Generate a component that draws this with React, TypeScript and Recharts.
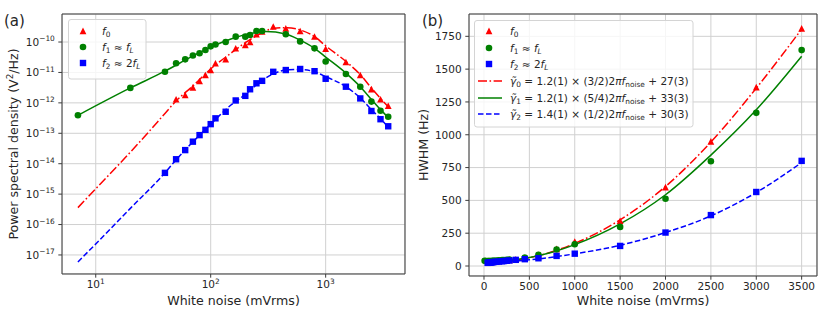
import React from "react";
import { ComposedChart, Line, Scatter, XAxis, YAxis, CartesianGrid } from "recharts";

const FONT = '"DejaVu Sans", Verdana, sans-serif';
const INK = "#262626";
const SPINE = "#3c3c3c";
const GRID = "#d0d0d0";
const RED = "#ff0000";
const GREEN = "#008000";
const BLUE = "#0000ff";
const THIN = 0.01; // axes take (almost) no room, the chart margins hold the labels

// ---- panel (a): power spectral density (V^2/Hz) vs white noise (mVrms)
const f0NoiseA = [50, 60, 70, 80, 90, 100, 110, 135, 165, 200, 220, 250, 280, 350, 450, 600, 800, 1000, 1500, 2000, 2500, 3000, 3500];
const f0PsdA = [1.3e-12, 1.8e-12, 3.2e-12, 5.2e-12, 8.2e-12, 1.2e-11, 2.0e-11, 2.7e-11, 6.2e-11, 8.0e-11, 1.0e-10, 1.8e-10, 2.2e-10, 3.2e-10, 2.8e-10, 2.3e-10, 1.5e-10, 6.0e-11, 2.2e-11, 8.2e-12, 2.8e-12, 1.3e-12, 8.0e-13];

const f1NoiseA = [7, 20, 40, 50, 60, 70, 80, 90, 100, 110, 135, 165, 200, 220, 250, 280, 450, 600, 800, 1000, 1500, 2000, 2500, 3000, 3500];
const f1PsdA = [3.9e-13, 3.1e-12, 1.05e-11, 2.0e-11, 2.7e-11, 3.6e-11, 4.3e-11, 5.5e-11, 7.2e-11, 8.3e-11, 1.0e-10, 1.5e-10, 1.5e-10, 1.7e-10, 2.3e-10, 2.3e-10, 1.8e-10, 1.05e-10, 6.2e-11, 2.3e-11, 8.9e-12, 3.4e-12, 1.1e-12, 5.5e-13, 3.5e-13];

const f2NoiseA = [40, 50, 60, 70, 80, 90, 100, 110, 135, 165, 200, 220, 250, 280, 350, 450, 600, 800, 1000, 1500, 2000, 2500, 3000, 3500];
const f2PsdA = [5.0e-15, 1.4e-14, 2.8e-14, 5.3e-14, 8.7e-14, 1.3e-13, 2.0e-13, 3.1e-13, 5.1e-13, 1.2e-12, 1.7e-12, 2.8e-12, 4.4e-12, 5.3e-12, 1.05e-11, 1.2e-11, 1.3e-11, 1.1e-11, 6.2e-12, 3.4e-12, 1.4e-12, 5.4e-13, 2.9e-13, 1.7e-13];

// model curves
const fit0NoiseA = [7, 10, 20, 30, 40, 50, 70, 100, 150, 200, 250, 300, 350, 450, 600, 800, 1000, 1500, 2000, 2500, 3000, 3500];
const fit0PsdA = [3.6e-16, 1.5e-15, 2.4e-14, 1.3e-13, 4.5e-13, 1.15e-12, 3.6e-12, 1.3e-11, 4.3e-11, 9.5e-11, 1.6e-10, 2.3e-10, 2.8e-10, 2.95e-10, 2.5e-10, 1.5e-10, 7.5e-11, 2.3e-11, 8.5e-12, 3.1e-12, 1.4e-12, 7.5e-13];
const fit1NoiseA = [7, 20, 40, 70, 100, 150, 200, 300, 450, 600, 800, 1000, 1500, 2000, 2500, 3000, 3500];
const fit1PsdA = [3.9e-13, 3.1e-12, 1.1e-11, 3.5e-11, 6.8e-11, 1.25e-10, 1.75e-10, 2.2e-10, 1.85e-10, 1.15e-10, 6.2e-11, 3.2e-11, 9.5e-12, 3.4e-12, 1.3e-12, 6.0e-13, 3.3e-13];
const fit2NoiseA = [7, 10, 20, 40, 50, 70, 100, 150, 200, 250, 350, 450, 600, 800, 1000, 1500, 2000, 2500, 3000, 3500];
const fit2PsdA = [5.9e-18, 2.3e-17, 3.4e-16, 5.0e-15, 1.35e-14, 5.2e-14, 2.0e-13, 8.5e-13, 1.9e-12, 3.9e-12, 9.0e-12, 1.2e-11, 1.25e-11, 1.05e-11, 7.3e-12, 3.4e-12, 1.45e-12, 6.0e-13, 3.0e-13, 1.6e-13];

const xTicksA = [10, 100, 1000];
const yTicksA = [1e-17, 1e-16, 1e-15, 1e-14, 1e-13, 1e-12, 1e-11, 1e-10];
const xDomainA: [number, number] = [5.09, 4898];
const yDomainA: [number, number] = [2.37e-18, 8.34e-10];

// ---- panel (b): HWHM (Hz) vs white noise (mVrms)
const f0NoiseB = f0NoiseA;
const f0HwhmB = [30, 30, 31, 32, 33, 34, 35, 36, 38, 40, 42, 44, 46, 50, 60, 84, 130, 186, 344, 600, 949, 1362, 1810];
const f1NoiseB = f1NoiseA;
const f1HwhmB = [40, 38, 37, 37, 37, 37, 38, 38, 39, 39, 41, 43, 45, 46, 48, 50, 64, 86, 126, 166, 298, 513, 798, 1167, 1645];
const f2NoiseB = f2NoiseA;
const f2HwhmB = [24, 25, 26, 27, 28, 29, 30, 31, 32, 34, 36, 38, 40, 42, 47, 52, 59, 77, 94, 153, 255, 388, 564, 801];

const fitNoiseB = [7, 250, 500, 750, 1000, 1500, 2000, 2500, 3000, 3500];
const fit0HwhmB = [27, 36, 63, 108, 172, 352, 606, 945, 1355, 1805];
const fit1HwhmB = [33, 41, 65, 105, 163, 321, 543, 845, 1190, 1598];
const fit2HwhmB = [30, 34, 47, 67, 93, 158, 255, 382, 560, 788];

const xTicksB = [0, 500, 1000, 1500, 2000, 2500, 3000, 3500];
const yTicksB = [0, 250, 500, 750, 1000, 1250, 1500, 1750];
const xDomainB: [number, number] = [-165, 3669];
const yDomainB: [number, number] = [-76, 1920];

const pts = (xs: number[], ys: number[]) => xs.map((x, i) => ({ x, y: ys[i] }));

// minor log ticks (2..9 per decade)
const minorLog = (lo: number, hi: number, dom: [number, number]) => {
  const out: number[] = [];
  for (let k = lo; k <= hi; k++) {
    for (let m = 2; m <= 9; m++) {
      const v = m * Math.pow(10, k);
      if (v > dom[0] && v < dom[1]) out.push(v);
    }
  }
  return out;
};
const xMinorA = minorLog(0, 3, xDomainA);
const yMinorA = minorLog(-18, -10, yDomainA);

const Tri = (p: any) =>
  p.cx == null ? null : (
    <polygon points={`${p.cx},${p.cy - 3.4} ${p.cx - 3.4},${p.cy + 3.2} ${p.cx + 3.4},${p.cy + 3.2}`} fill={RED} />
  );
const Dot = (p: any) => (p.cx == null ? null : <circle cx={p.cx} cy={p.cy} r={3.3} fill={GREEN} />);
const Sq = (p: any) =>
  p.cx == null ? null : <rect x={p.cx - 3.2} y={p.cy - 3.2} width={6.4} height={6.4} fill={BLUE} />;

const LogTickX = (p: any) => (
  <text x={p.x} y={p.y + 10.6} textAnchor="middle" fontSize={10.5} fill={INK} fontFamily={FONT}>
    10<tspan dy={-4.5} fontSize={7.4}>{Math.round(Math.log10(p.payload.value))}</tspan>
  </text>
);
const LogTickY = (p: any) => (
  <text x={p.x - 3.5} y={p.y + 3.8} textAnchor="end" fontSize={10.5} fill={INK} fontFamily={FONT}>
    10<tspan dy={-4.5} fontSize={7.4}>{"\u2212" + Math.abs(Math.round(Math.log10(p.payload.value)))}</tspan>
  </text>
);
const NumTickX = (p: any) => (
  <text x={p.x} y={p.y + 10.8} textAnchor="middle" fontSize={10.5} fill={INK} fontFamily={FONT}>
    {p.payload.value}
  </text>
);
const NumTickY = (p: any) => (
  <text x={p.x - 3.7} y={p.y + 3.8} textAnchor="end" fontSize={10.5} fill={INK} fontFamily={FONT}>
    {p.payload.value}
  </text>
);

const frameAxes = [
  <XAxis key="top" xAxisId="top" orientation="top" type="number" domain={[0, 1]} height={THIN} tick={false} tickLine={false} axisLine={{ stroke: SPINE }} />,
  <YAxis key="right" yAxisId="right" orientation="right" type="number" domain={[0, 1]} width={THIN} tick={false} tickLine={false} axisLine={{ stroke: SPINE }} />,
];

function PanelA() {
  return (
    <ComposedChart width={420} height={317} margin={{ top: 14, right: 15, bottom: 43, left: 62 }}>
      <CartesianGrid stroke={GRID} strokeWidth={1} />
      <XAxis xAxisId={0} dataKey="x" type="number" scale="log" domain={xDomainA} allowDataOverflow ticks={xTicksA} interval={0}
        height={THIN} tickSize={3.7} tickMargin={0} tick={LogTickX} axisLine={{ stroke: SPINE }} tickLine={{ stroke: SPINE }} />
      <XAxis xAxisId="mx" dataKey="x" type="number" scale="log" domain={xDomainA} allowDataOverflow ticks={xMinorA} interval={0}
        height={THIN} tickSize={2.1} tick={false} axisLine={false} tickLine={{ stroke: SPINE }} />
      <YAxis yAxisId={0} dataKey="y" type="number" scale="log" domain={yDomainA} allowDataOverflow ticks={yTicksA} interval={0}
        width={THIN} tickSize={3.7} tickMargin={0} tick={LogTickY} axisLine={{ stroke: SPINE }} tickLine={{ stroke: SPINE }} />
      <YAxis yAxisId="my" dataKey="y" type="number" scale="log" domain={yDomainA} allowDataOverflow ticks={yMinorA} interval={0}
        width={THIN} tickSize={2.1} tick={false} axisLine={false} tickLine={{ stroke: SPINE }} />
      {frameAxes}
      <Scatter data={pts(f0NoiseA, f0PsdA)} dataKey="y" shape={Tri} isAnimationActive={false} />
      <Scatter data={pts(f1NoiseA, f1PsdA)} dataKey="y" shape={Dot} isAnimationActive={false} />
      <Scatter data={pts(f2NoiseA, f2PsdA)} dataKey="y" shape={Sq} isAnimationActive={false} />
      <Line data={pts(fit0NoiseA, fit0PsdA)} dataKey="y" type="monotone" stroke={RED} strokeWidth={1.5}
        strokeDasharray="9 2.5 1.6 2.5" dot={false} isAnimationActive={false} />
      <Line data={pts(fit1NoiseA, fit1PsdA)} dataKey="y" type="monotone" stroke={GREEN} strokeWidth={1.5}
        dot={false} isAnimationActive={false} />
      <Line data={pts(fit2NoiseA, fit2PsdA)} dataKey="y" type="monotone" stroke={BLUE} strokeWidth={1.5}
        strokeDasharray="5.5 2.5" dot={false} isAnimationActive={false} />
    </ComposedChart>
  );
}

function PanelB() {
  return (
    <ComposedChart width={411} height={317} margin={{ top: 14, right: 14, bottom: 41, left: 49 }}>
      <CartesianGrid stroke={GRID} strokeWidth={1} />
      <XAxis xAxisId={0} dataKey="x" type="number" domain={xDomainB} allowDataOverflow ticks={xTicksB} interval={0}
        height={THIN} tickSize={3.7} tickMargin={0} tick={NumTickX} axisLine={{ stroke: SPINE }} tickLine={{ stroke: SPINE }} />
      <YAxis yAxisId={0} dataKey="y" type="number" domain={yDomainB} allowDataOverflow ticks={yTicksB} interval={0}
        width={THIN} tickSize={3.7} tickMargin={0} tick={NumTickY} axisLine={{ stroke: SPINE }} tickLine={{ stroke: SPINE }} />
      {frameAxes}
      <Scatter data={pts(f0NoiseB, f0HwhmB)} dataKey="y" shape={Tri} isAnimationActive={false} />
      <Scatter data={pts(f1NoiseB, f1HwhmB)} dataKey="y" shape={Dot} isAnimationActive={false} />
      <Scatter data={pts(f2NoiseB, f2HwhmB)} dataKey="y" shape={Sq} isAnimationActive={false} />
      <Line data={pts(fitNoiseB, fit0HwhmB)} dataKey="y" type="monotone" stroke={RED} strokeWidth={1.5}
        strokeDasharray="9 2.5 1.6 2.5" dot={false} isAnimationActive={false} />
      <Line data={pts(fitNoiseB, fit1HwhmB)} dataKey="y" type="monotone" stroke={GREEN} strokeWidth={1.5}
        dot={false} isAnimationActive={false} />
      <Line data={pts(fitNoiseB, fit2HwhmB)} dataKey="y" type="monotone" stroke={BLUE} strokeWidth={1.5}
        strokeDasharray="5.5 2.5" dot={false} isAnimationActive={false} />
    </ComposedChart>
  );
}

const SUB = 7.4;
const DROP = 2.2;

const MarkerRows = ({ x, tx, ys }: { x: number; tx: number; ys: number[] }) => (
  <>
    <polygon points={`${x},${ys[0] - 3.4} ${x - 3.4},${ys[0] + 3.2} ${x + 3.4},${ys[0] + 3.2}`} fill={RED} />
    <circle cx={x} cy={ys[1]} r={3.3} fill={GREEN} />
    <rect x={x - 3.2} y={ys[2] - 3.2} width={6.4} height={6.4} fill={BLUE} />
    <text x={tx} y={ys[0] + 4}>
      <tspan fontStyle="italic">f</tspan>
      <tspan fontSize={SUB} dy={DROP}>0</tspan>
    </text>
    <text x={tx} y={ys[1] + 4}>
      <tspan fontStyle="italic">f</tspan>
      <tspan fontSize={SUB} dy={DROP}>1</tspan>
      <tspan dy={-DROP}>{" \u2248 "}</tspan>
      <tspan fontStyle="italic">f</tspan>
      <tspan fontSize={SUB} dy={DROP} fontStyle="italic">L</tspan>
    </text>
    <text x={tx} y={ys[2] + 4}>
      <tspan fontStyle="italic">f</tspan>
      <tspan fontSize={SUB} dy={DROP}>2</tspan>
      <tspan dy={-DROP}>{" \u2248 2"}</tspan>
      <tspan fontStyle="italic">f</tspan>
      <tspan fontSize={SUB} dy={DROP} fontStyle="italic">L</tspan>
    </text>
  </>
);

const fitRow = (y: number, idx: string, coef: string, frac: string, off: string) => (
  <text x={510} y={y + 4}>
    <tspan fontStyle="italic">{"\u03b3\u0303"}</tspan>
    <tspan fontSize={SUB} dy={DROP}>{idx}</tspan>
    <tspan dy={-DROP}>{` = ${coef} \u00d7 (${frac})2`}</tspan>
    <tspan fontStyle="italic">{"\u03c0f"}</tspan>
    <tspan fontSize={SUB} dy={DROP}>noise</tspan>
    <tspan dy={-DROP}>{` + ${off}`}</tspan>
  </text>
);

function Overlay() {
  return (
    <svg width={831} height={317} style={{ position: "absolute", left: 0, top: 0, pointerEvents: "none", whiteSpace: "pre" }}
      fontFamily={FONT} fill={INK} fontSize={10.5}>
      <text x={4} y={26.3} fontSize={15}>(a)</text>
      <text x={422} y={26.3} fontSize={15}>(b)</text>

      <text x={233.5} y={304.5} textAnchor="middle" fontSize={12.6}>White noise (mVrms)</text>
      <text x={643} y={304.5} textAnchor="middle" fontSize={12.6}>White noise (mVrms)</text>
      <text transform="translate(17.5,144) rotate(-90)" textAnchor="middle" fontSize={12.6}>
        Power spectral density (V<tspan dy={-4.5} fontSize={8.8}>2</tspan><tspan dy={4.5}>/Hz)</tspan>
      </text>
      <text transform="translate(427.5,145) rotate(-90)" textAnchor="middle" fontSize={12.6}>HWHM (Hz)</text>

      {/* legend (a) */}
      <rect x={68.5} y={19.5} width={77.5} height={59.5} rx={2.5} fill="#fff" fillOpacity={0.8} stroke="#d4d4d4" />
      <MarkerRows x={83} tx={102} ys={[31, 47, 63]} />

      {/* legend (b) */}
      <rect x={474.5} y={20.5} width={218.5} height={106.5} rx={2.5} fill="#fff" fillOpacity={0.8} stroke="#d4d4d4" />
      <MarkerRows x={489} tx={510} ys={[31, 48, 64]} />
      <line x1={478} y1={81} x2={502} y2={81} stroke={RED} strokeWidth={1.5} strokeDasharray="9 2.5 1.6 2.5" />
      <line x1={478} y1={98} x2={502} y2={98} stroke={GREEN} strokeWidth={1.5} />
      <line x1={478} y1={114} x2={502} y2={114} stroke={BLUE} strokeWidth={1.5} strokeDasharray="5.5 2.5" />
      {fitRow(81, "0", "1.2(1)", "3/2", "27(3)")}
      {fitRow(98, "1", "1.2(1)", "5/4", "33(3)")}
      {fitRow(114, "2", "1.4(1)", "1/2", "30(3)")}
    </svg>
  );
}

export default function App() {
  return (
    <div style={{ position: "absolute", left: 0, top: 0, width: 831, height: 317, background: "#fff", overflow: "hidden", fontFamily: FONT }}>
      <div style={{ position: "absolute", left: 0, top: 0 }}>
        <PanelA />
      </div>
      <div style={{ position: "absolute", left: 420, top: 0 }}>
        <PanelB />
      </div>
      <Overlay />
    </div>
  );
}
